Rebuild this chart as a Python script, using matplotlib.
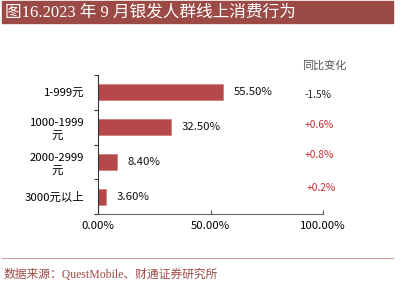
import matplotlib
matplotlib.use("Agg")
import matplotlib.pyplot as plt
from matplotlib.patches import Rectangle
from matplotlib.lines import Line2D

plt.rcParams['font.family'] = ['Noto Sans CJK SC', 'DejaVu Sans']

### Data
categories = ['1-999元', '1000-1999\n元', '2000-2999\n元', '3000元以上']
shares = [55.5, 32.5, 8.4, 3.6]
share_labels = ['55.50%', '32.50%', '8.40%', '3.60%']
yoy_changes = ['-1.5%', '+0.6%', '+0.8%', '+0.2%']
yoy_colors = ['#222222', '#C8282D', '#C8282D', '#C8282D']
xticks = [0, 50, 100]
xtick_labels = ['0.00%', '50.00%', '100.00%']

W, H = 411, 284
fig = plt.figure(figsize=(W / 100, H / 100), dpi=100)

### Title bar
fig.patches.append(Rectangle((2 / W, 1 - 23 / H), 391 / W, 22 / H,
                             transform=fig.transFigure, color='#9C4A46', zorder=0))
fig.text(5 / W, 1 - 12.5 / H, '图16.2023 年 9 月银发人群线上消费行为',
         color='white', fontsize=12, va='center', ha='left',
         family=['Liberation Serif', 'Noto Sans CJK SC'])

### Footer
fig.lines.append(Line2D([2 / W, 393 / W], [1 - 258 / H, 1 - 258 / H],
                        transform=fig.transFigure, color='#D8A3A3', lw=0.8))
fig.text(4 / W, 1 - 275 / H, '数据来源：QuestMobile、财通证券研究所',
         color='#9C4A46', fontsize=8.5, va='center', ha='left',
         family=['Liberation Serif', 'Noto Sans CJK SC'])

### Axes
ax = fig.add_axes([98 / W, 1 - 214 / H, 225 / W, 139 / H])
pos = list(range(len(categories)))
ax.barh(pos, shares, height=0.46, color='#B5484A', edgecolor='#C97070', linewidth=0.4)
ax.set_xlim(0, 100)
ax.set_ylim(len(categories) - 0.5, -0.5)

for p, v, lab in zip(pos, shares, share_labels):
    ax.annotate(lab, (v, p), xytext=(7.5, 0), textcoords='offset points',
                va='center', ha='left', fontsize=8.2, color='#111111')

ax.set_yticks([p - 0.5 for p in pos] + [len(pos) - 0.5])
ax.set_yticklabels([])
ax.set_yticks(pos, minor=True)
ax.set_yticklabels(categories, minor=True, fontsize=8.2, multialignment='center',
                   linespacing=1.45)
ax.tick_params(axis='y', which='minor', length=0, pad=10)
ax.tick_params(axis='y', which='major', length=3, direction='out', color='#333333')

ax.set_xticks(xticks)
ax.set_xticklabels(xtick_labels, fontsize=8.2)
ax.tick_params(axis='x', length=3, direction='in', pad=5, color='#555555')

for s in ['top', 'right']:
    ax.spines[s].set_visible(False)
ax.spines['left'].set_color('#333333')
ax.spines['bottom'].set_color('#666666')
ax.spines['left'].set_linewidth(0.8)
ax.spines['bottom'].set_linewidth(0.8)

### YoY change column
fig.text(302 / W, 1 - 66 / H, '同比变化', color='#555555', fontsize=8,
         va='center', ha='left')
for i, (t, c) in enumerate(zip(yoy_changes, yoy_colors)):
    ypix = [95, 125, 155, 188][i]
    xpix = [305, 305, 305, 307][i]
    fig.text(xpix / W, 1 - ypix / H, t, color=c, fontsize=7.3, va='center', ha='left')

fig.savefig('out.png', dpi=100)
